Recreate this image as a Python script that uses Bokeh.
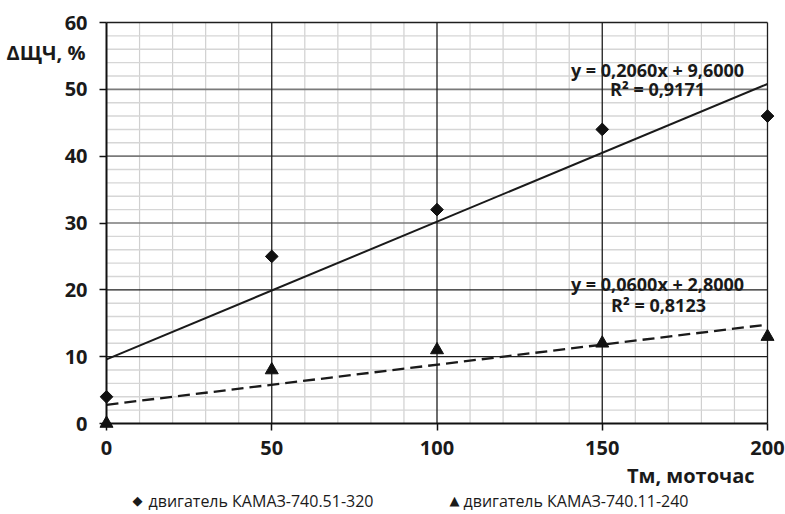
import numpy as np
from bokeh.plotting import figure
from bokeh.models import Range1d, FixedTicker, Label, LinearAxis
from bokeh.embed import file_html
from bokeh.resources import INLINE

# ---- data ----
t_hours = [0, 50, 100, 150, 200]
d_kamaz_51 = [4, 25, 32, 44, 46]
d_kamaz_11 = [0, 8, 11, 12, 13]
trend_51 = (0.2060, 9.6000)   # slope, intercept as printed
trend_11 = (0.0600, 2.8000)
eq_51 = ["y = 0,2060x + 9,6000", "R² = 0,9171"]
eq_11 = ["y = 0,0600x + 2,8000", "R² = 0,8123"]
legend_labels = ["двигатель КАМАЗ-740.51-320", "двигатель КАМАЗ-740.11-240"]
legend_symbols = ["◆", "▲"]
x_ticks = [0, 50, 100, 150, 200]
x_minor = list(range(0, 201, 10))
y_ticks = [0, 10, 20, 30, 40, 50, 60]
y_minor = list(range(0, 61, 2))
y_title = "ΔЩЧ, %"
x_title = "Тм, моточас"

FONT = "Open Sans"
W, H = 785, 514
# plot-area placement in the page (pixels)
FX0, FX1, FY0, FY1 = 106, 767, 22, 423
XMIN, XMAX, YMIN, YMAX = 0, 200, 0, 60
sx = (FX1 - FX0) / (XMAX - XMIN)
sy = (FY1 - FY0) / (YMAX - YMIN)
TEXT_SHIFT = 6.5   # baseline correction for Label placement

def dx(px):
    return XMIN + (px - FX0) / sx

def dy(py):
    return YMIN + (FY1 - py) / sy

p = figure(width=W, height=H, output_backend="svg", toolbar_location=None,
           x_range=Range1d(dx(0), dx(W)), y_range=Range1d(dy(H), dy(0)),
           x_axis_type=None, y_axis_type=None,
           min_border=0, min_border_left=0, min_border_right=0,
           min_border_top=0, min_border_bottom=0)
p.outline_line_color = None
p.background_fill_color = "white"
p.border_fill_color = "white"
p.xgrid.visible = False
p.ygrid.visible = False

# ---- grid lines ----
xm = [v for v in x_minor if v not in x_ticks]
ym = [v for v in y_minor if v not in y_ticks]
p.segment(x0=xm, y0=[YMIN] * len(xm), x1=xm, y1=[YMAX] * len(xm),
          line_color="#d0d0d0", line_width=1.2)
p.segment(x0=[XMIN] * len(ym), y0=ym, x1=[XMAX] * len(ym), y1=ym,
          line_color="#d6d6d6", line_width=1.4)
y_gray = [30, 40, 50]
y_dark = [v for v in y_ticks if v not in y_gray and v != 0]
p.segment(x0=[XMIN] * len(y_gray), y0=y_gray, x1=[XMAX] * len(y_gray), y1=y_gray,
          line_color="#7a7a7a", line_width=1.6)
p.segment(x0=[XMIN] * len(y_dark), y0=y_dark, x1=[XMAX] * len(y_dark), y1=y_dark,
          line_color="#1e1e1e", line_width=1.3)
xg = [v for v in x_ticks if v != 0]
p.segment(x0=xg, y0=[YMIN] * len(xg), x1=xg, y1=[YMAX] * len(xg),
          line_color="#1e1e1e", line_width=1.3)

# ---- axes at fixed locations ----
def style(ax):
    ax.major_label_text_font = FONT
    ax.major_label_text_font_style = "bold"
    ax.major_label_text_font_size = "20px"
    ax.major_label_text_color = "#1a1a1a"
    ax.axis_line_color = "#111111"
    ax.axis_line_width = 2
    ax.major_tick_line_color = "#111111"
    ax.major_tick_line_width = 1.5
    ax.major_tick_out = 7
    ax.major_tick_in = 0
    ax.minor_tick_out = 0
    ax.minor_tick_in = 0

xax = LinearAxis(ticker=FixedTicker(ticks=x_ticks), fixed_location=YMIN,
                 bounds=(XMIN, XMAX), major_label_standoff=10)
yax = LinearAxis(ticker=FixedTicker(ticks=y_ticks), fixed_location=XMIN,
                 bounds=(YMIN, YMAX), major_label_standoff=12)
style(xax)
style(yax)
p.add_layout(xax, "below")
p.add_layout(yax, "left")

# ---- trend lines (from printed coefficients) ----
xs = np.array([t_hours[0], t_hours[-1]], dtype=float)
p.line(xs, trend_51[0] * xs + trend_51[1], line_color="#1a1a1a", line_width=2)
p.line(xs, trend_11[0] * xs + trend_11[1], line_color="#1a1a1a", line_width=2.3,
       line_dash="12 6")

# ---- points ----
p.scatter(t_hours, d_kamaz_51, marker="square", angle=np.pi / 4, size=9,
          fill_color="#111111", line_color="#111111")
p.scatter(t_hours, d_kamaz_11, marker="triangle", size=13,
          fill_color="#111111", line_color="#111111")

# ---- texts ----
def lab(text, px, py, size, align="left", bold=True, font=FONT):
    p.add_layout(Label(x=dx(px), y=dy(py - TEXT_SHIFT), text=text, text_font=font,
                       text_font_size=size, text_align=align,
                       text_baseline="alphabetic",
                       text_font_style="bold" if bold else "normal",
                       text_color="#1a1a1a"))

lab(y_title, 85, 58, "20px", align="right")
lab(x_title, 754, 481, "20px", align="right")
lab(eq_51[0], 657, 76, "18px", align="center")
lab(eq_51[1], 657, 95, "18px", align="center")
lab(eq_11[0], 657, 290, "18px", align="center")
lab(eq_11[1], 658, 311, "18px", align="center")

# ---- legend ----
lab(legend_symbols[0], 132, 506, "13px", bold=False, font="DejaVu Sans")
lab(legend_labels[0], 148, 507, "16px", bold=False)
lab(legend_symbols[1], 449, 506, "13px", bold=False, font="DejaVu Sans")
lab(legend_labels[1], 463, 507, "16px", bold=False)

open("out.html", "w").write(file_html(p, INLINE))
